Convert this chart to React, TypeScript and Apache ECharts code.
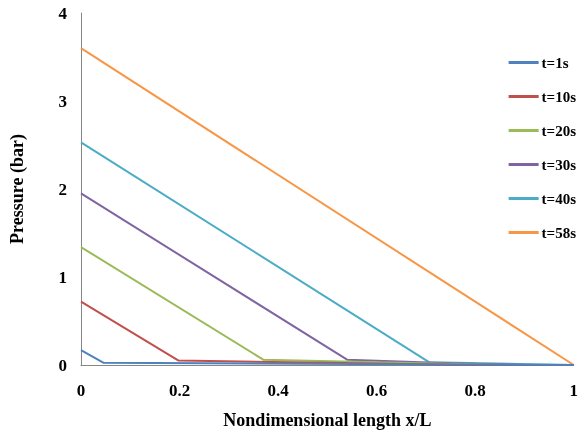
import React, { useEffect, useRef } from "react";
import * as echarts from "echarts";

const seriesNames = ["t=1s", "t=10s", "t=20s", "t=30s", "t=40s", "t=58s"];
const colors = ["#4F81BD", "#C0504D", "#9BBB59", "#8064A2", "#4BACC6", "#F79646"];

const s1: [number, number][] = [[0, 0.17], [0.046, 0.025], [1, 0.0]];
const s10: [number, number][] = [[0, 0.72], [0.198, 0.05], [0.5, 0.025], [0.78, 0.0], [1, 0.0]];
const s20: [number, number][] = [[0, 1.34], [0.37, 0.06], [0.6, 0.03], [0.85, 0.0], [1, 0.0]];
const s30: [number, number][] = [[0, 1.95], [0.54, 0.06], [0.75, 0.02], [0.9, 0.0], [1, 0.0]];
const s40: [number, number][] = [[0, 2.53], [0.707, 0.03], [1, 0.0]];
const s58: [number, number][] = [[0, 3.6], [1, 0.0]];
const allSeries = [s1, s10, s20, s30, s40, s58];

const xTicks = [0, 0.2, 0.4, 0.6, 0.8, 1];
const yTicks = [0, 1, 2, 3, 4];

const font = "'Liberation Serif', 'Times New Roman', serif";

export default function App() {
  const ref = useRef<HTMLDivElement>(null);
  useEffect(() => {
    if (!ref.current) return;
    const chart = echarts.init(ref.current, null, { renderer: "svg" });
    chart.setOption({
      animation: false,
      grid: { left: 80, right: 6, top: 13, bottom: 70, containLabel: false },
      legend: {
        orient: "vertical",
        right: 0,
        top: 50,
        align: "left",
        itemWidth: 30,
        itemHeight: 3,
        itemGap: 19,
        icon: "rect",
        textStyle: { fontFamily: font, fontWeight: "bold", fontSize: 15, color: "#000", padding: [0, 0, 0, -2] },
        data: seriesNames,
      },
      xAxis: {
        type: "value",
        min: 0,
        max: 1,
        interval: 0.2,
        name: "Nondimensional length x/L",
        nameLocation: "middle",
        nameGap: 46,
        nameTextStyle: { fontFamily: font, fontWeight: "bold", fontSize: 18, color: "#000" },
        axisLine: { lineStyle: { color: "#868686", width: 1 } },
        axisTick: { show: false },
        splitLine: { show: false },
        axisLabel: {
          fontFamily: font,
          fontWeight: "bold",
          fontSize: 17,
          color: "#000",
          margin: 17,
          formatter: (v: number) => (xTicks.includes(Number(v.toFixed(1))) ? String(Number(v.toFixed(1))) : ""),
        },
      },
      yAxis: {
        type: "value",
        min: 0,
        max: 4,
        interval: 1,
        name: "Pressure (bar)",
        nameLocation: "middle",
        nameGap: 55,
        nameTextStyle: { fontFamily: font, fontWeight: "bold", fontSize: 18, color: "#000" },
        axisLine: { show: true, lineStyle: { color: "#868686", width: 1 } },
        axisTick: { show: false },
        splitLine: { show: false },
        axisLabel: {
          fontFamily: font,
          fontWeight: "bold",
          fontSize: 17,
          color: "#000",
          margin: 14,
          formatter: (v: number) => (yTicks.includes(v) ? String(v) : ""),
        },
      },
      series: allSeries.map((d, i) => ({
        name: seriesNames[i],
        type: "line",
        data: d,
        showSymbol: false,
        symbol: "none",
        lineStyle: { color: colors[i], width: 2 },
        itemStyle: { color: colors[i] },
        z: 10 - i,
      })),
    });
    return () => chart.dispose();
  }, []);
  return <div ref={ref} style={{ position: "fixed", left: 0, top: 0, width: 581, height: 435 }} />;
}
